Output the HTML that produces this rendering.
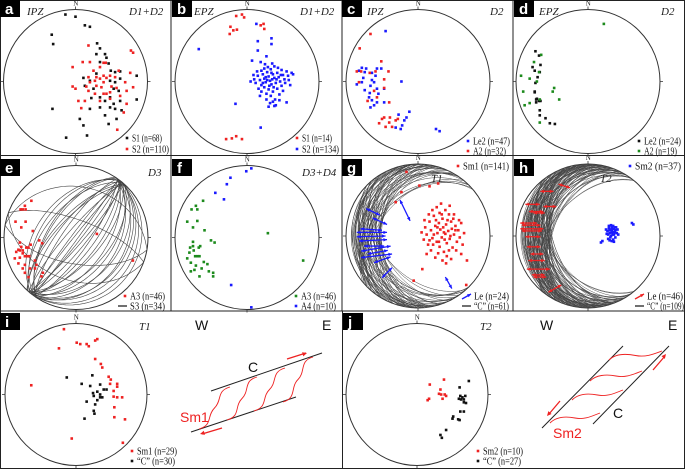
<!DOCTYPE html>
<html><head><meta charset="utf-8"><style>
html,body{margin:0;padding:0;background:#fff}
svg{display:block}
.lg{font-family:"Liberation Serif",serif;font-size:10px;fill:#111}
.it{font-family:"Liberation Serif",serif;font-size:11px;font-style:italic;fill:#222}
.nl{font-family:"Liberation Serif",serif;font-size:7px;fill:#222}
.pl{font-family:"Liberation Sans",sans-serif;font-size:15px;font-weight:bold;fill:#fff}
.sk{font-family:"Liberation Sans",sans-serif;font-size:14px}
</style></head><body>
<svg id="fig" width="685" height="469" viewBox="0 0 685 469" xmlns="http://www.w3.org/2000/svg"></svg>
<script>
// ---- data (normalized stereonet coordinates, unit radius, y up) ----
const aS1=[[-0.14,0.93],[0,0.9],[0.13,0.78],[0.2,0.76],[-0.33,0.65],[-0.31,0.52],[0.3,0.53],[0.34,0.46],[0.41,0.38],[0.43,0.33],[0.29,0.38],[0.34,0.27],[0.46,0.25],[0.49,0.15],[0.55,0.13],[0.62,0.14],[0.85,0.08],[0.11,0.05],[0.2,0.01],[0.29,0.11],[0.48,0.01],[0.55,-0.01],[0.62,0.04],[0.13,-0.06],[0.25,-0.1],[0.53,-0.1],[0.6,-0.13],[0.22,-0.23],[0.34,-0.22],[0.41,-0.27],[0.48,-0.22],[0.53,-0.31],[0.62,-0.27],[0.2,-0.38],[0.34,-0.36],[0.48,-0.36],[0.55,-0.38],[0.64,-0.4],[0.85,-0.25],[-0.32,-0.38],[0.06,-0.52],[0.11,-0.61],[0.41,-0.47],[0.46,-0.59],[0.57,-0.52],[-0.13,-0.78],[0.16,-0.75]];
const aS2=[[0.18,0.5],[0.77,0.43],[0.8,0.4],[0.1,0.27],[0.2,0.27],[-0.04,0.2],[0.39,0.26],[0.42,0.26],[0.25,0.15],[0.34,0.2],[0.6,0.15],[0.76,0.12],[0.2,-0.01],[0.27,0.01],[0.34,0.04],[0.39,-0.01],[0.43,0.05],[0.29,-0.06],[0.36,-0.08],[0.5,-0.07],[0.57,-0.09],[0.69,-0.01],[0.8,-0.08],[-0.04,-0.07],[0,-0.1],[0.18,-0.13],[0.27,-0.17],[0.39,-0.17],[0.48,-0.15],[0.62,-0.2],[0.71,-0.13],[0.04,-0.27],[0.13,-0.27],[0.34,-0.27],[0.43,-0.17],[0.08,-0.37],[0.58,-0.67],[0.71,-0.31],[0.18,0.06],[0.29,0.06],[0.39,0.08],[0.48,0.08],[0.55,0.06],[0.15,-0.07],[0.48,-0.24],[0.67,-0.43]];
const bS1=[[-0.15,0.91],[-0.07,0.93],[-0.04,0.89],[0.19,0.78],[0.23,0.8],[0.24,0.73],[-0.23,0.76],[-0.19,0.71],[-0.14,0.72],[-0.24,0.66],[-0.29,-0.8],[-0.21,-0.79],[-0.15,-0.76],[-0.07,-0.8]];
const bS2=[[-0.67,0.45],[0.13,0.8],[0.15,0.56],[0.34,0.6],[0.34,0.52],[0.15,0.43],[0.27,0.35],[0.07,0.29],[0.19,0.27],[-0.16,-0.31],[0.19,-0.64],[0.55,-0.29],[0.38,-0.34],[0.64,0.1],[0.05,0],[0.1,0.03],[0.12,-0.02],[0.15,0.08],[0.18,0.02],[0.2,-0.05],[0.22,0.1],[0.24,0.04],[0.26,-0.01],[0.28,0.13],[0.3,0.07],[0.32,0.01],[0.34,-0.04],[0.36,0.1],[0.38,0.05],[0.4,-0.02],[0.42,0.12],[0.44,0.06],[0.46,0],[0.48,-0.06],[0.5,0.09],[0.52,0.03],[0.55,0.14],[0.58,0.02],[0.6,-0.05],[0.16,-0.1],[0.2,-0.14],[0.24,-0.08],[0.27,-0.17],[0.3,-0.11],[0.33,-0.2],[0.36,-0.14],[0.39,-0.25],[0.42,-0.1],[0.45,-0.18],[0.5,-0.13],[0.27,-0.25],[0.32,-0.3],[0.36,-0.28],[0.24,0.18],[0.29,0.2],[0.33,0.17],[0.38,0.21],[0.43,0.19],[0.48,0.16],[0.2,0.15],[0.09,0.09],[0.14,0.14],[0.26,0.06],[0.31,-0.06],[0.35,0.03],[0.41,0.03],[0.37,-0.08],[0.28,0.02],[0.22,-0.02],[0.47,0.09],[0.53,-0.02],[0.18,-0.2],[0.4,-0.33],[0.3,-0.35],[0.25,0.24],[0.35,0.25],[0.57,0.08],[0.62,0.12],[0.45,-0.26],[0.34,0.12]];
const cLe2=[[-0.45,0.7],[-0.23,0],[-0.12,-0.42],[-0.16,-0.5],[-0.19,-0.54],[-0.22,-0.61],[-0.24,-0.66],[-0.31,-0.64],[-0.27,-0.46],[0.25,-0.66],[0.3,-0.69],[-0.78,0.19],[-0.82,0.15],[-0.72,0.18],[-0.74,0.13],[-0.64,0.12],[-0.57,0.18],[-0.51,0.18],[-0.59,0.08],[-0.64,0.02],[-0.76,0.05],[-0.85,-0.04],[-0.74,-0.12],[-0.66,-0.06],[-0.67,-0.16],[-0.68,-0.22],[-0.64,-0.26],[-0.57,-0.1],[-0.55,-0.17],[-0.57,-0.29],[-0.66,-0.36],[-0.61,-0.33],[-0.47,-0.1],[-0.47,-0.29],[-0.78,-0.01],[-0.61,-0.01]];
const cA2=[[-0.66,0.66],[-0.81,0.46],[-0.51,0.28],[-0.85,0.14],[-0.79,0.14],[-0.67,0.12],[-0.59,0.14],[-0.41,0.14],[-0.47,0.03],[-0.82,-0.01],[-0.47,-0.09],[-0.57,-0.22],[-0.4,-0.29],[-0.5,-0.52],[-0.47,-0.5],[-0.39,-0.5],[-0.31,-0.54],[-0.28,-0.52],[-0.4,-0.57],[-0.54,-0.58],[-0.45,-0.63],[-0.36,-0.63],[-0.7,-0.27],[-0.61,-0.13]];
const dLe2=[[-0.73,0.42],[-0.68,0.36],[-0.66,0.23],[-0.77,0.2],[-0.74,0.15],[-0.67,0.13],[-0.7,0.06],[-0.73,-0.02],[-0.74,-0.14],[-0.74,-0.15],[-0.71,-0.24],[-0.68,-0.27],[-0.66,-0.27],[-0.72,-0.29],[-0.67,-0.4],[-0.67,-0.47],[-0.59,-0.51],[-0.53,-0.58],[-0.46,-0.59],[-0.72,-0.25]];
const dA2=[[0.22,0.8],[-0.65,0.37],[-0.75,0.27],[-0.68,0.13],[-0.93,0.08],[-0.81,0.04],[-0.71,0],[-0.47,-0.09],[-0.9,-0.14],[-0.49,-0.14],[-0.4,-0.25],[-0.67,-0.25],[-0.81,-0.3],[-0.88,-0.33],[-0.67,-0.57]];
const eA3=[[-0.62,0.51],[-0.71,0.44],[-0.77,0.39],[-0.74,0.39],[-0.7,0.39],[-0.84,0.22],[-0.7,0.22],[-0.76,0.14],[-0.6,0.09],[-0.51,-0.04],[-0.47,-0.08],[-0.78,-0.07],[-0.76,-0.13],[-0.8,-0.17],[-0.66,-0.14],[-0.63,-0.1],[-0.69,-0.14],[-0.83,-0.2],[-0.74,-0.22],[-0.71,-0.26],[-0.68,-0.26],[-0.65,-0.26],[-0.78,-0.28],[-0.57,-0.32],[-0.85,-0.29],[-0.8,-0.36],[-0.71,-0.38],[-0.64,-0.43],[-0.74,-0.43],[-0.57,-0.43],[-0.55,-0.38],[-0.71,-0.49],[-0.66,-0.55],[-0.48,-0.54],[-0.46,-0.49],[0.29,0.05],[0.79,-0.32],[-0.78,-0.18],[-0.74,-0.18]];
const eS3DipDir=[308,306,310,304,312,308,305,311,307,309,303,313,128,126,130,124,132,128,125,131,127,129,128,126,130,124,132,128,125,131,10,200,190,20];
const eS3Dip=[45,50,55,60,65,70,75,80,85,88,58,68,12,18,25,32,40,48,55,62,70,78,85,88,30,42,52,65,75,82,30,40,60,70];
const fA3=[[-0.61,0.51],[-0.71,0.44],[-0.77,0.39],[-0.69,0.39],[-0.83,0.22],[-0.69,0.23],[-0.75,0.14],[-0.59,0.1],[-0.5,-0.04],[-0.45,-0.07],[0.29,0.06],[0.78,-0.32],[-0.75,-0.06],[-0.79,-0.14],[-0.75,-0.12],[-0.67,-0.14],[-0.65,-0.12],[-0.8,-0.21],[-0.74,-0.18],[-0.72,-0.26],[-0.69,-0.26],[-0.66,-0.26],[-0.83,-0.29],[-0.6,-0.34],[-0.55,-0.37],[-0.78,-0.35],[-0.71,-0.39],[-0.63,-0.43],[-0.73,-0.45],[-0.53,-0.47],[-0.47,-0.49],[-0.47,-0.54],[-0.66,-0.54],[-0.78,-0.47]];
const fA4=[[0.06,0.96],[-0.01,0.92],[-0.23,0.83],[-0.28,0.74],[-0.44,0.62],[-0.32,0.53],[-0.22,-0.66],[0.06,-0.97]];
const gSm1=[[-0.16,0.89],[0.02,0.7],[0.16,0.69],[0.28,0.73],[-0.23,0.61],[-0.31,0.47],[0.06,-0.46],[-0.06,-0.62],[0.67,-0.68],[0.68,-0.34],[0.05,0.05],[0.08,-0.05],[0.1,0.12],[0.12,0.02],[0.14,-0.12],[0.16,0.2],[0.18,0.08],[0.2,-0.03],[0.22,0.28],[0.24,0.14],[0.26,-0.08],[0.27,0.04],[0.29,0.18],[0.3,-0.15],[0.31,0.09],[0.33,-0.02],[0.34,0.24],[0.35,0.12],[0.36,-0.22],[0.38,0.03],[0.39,0.16],[0.4,-0.1],[0.42,0.07],[0.43,0.3],[0.44,-0.04],[0.46,0.2],[0.47,0.1],[0.48,-0.16],[0.5,0.02],[0.52,0.14],[0.54,-0.08],[0.56,0.08],[0.58,-0.02],[0.6,0.18],[0.62,-0.12],[0.64,0.04],[0.12,-0.25],[0.18,-0.2],[0.24,-0.3],[0.28,-0.24],[0.34,-0.34],[0.4,-0.28],[0.46,-0.32],[0.2,0.36],[0.26,0.4],[0.32,0.45],[0.38,0.36],[0.44,0.42],[0.5,0.3],[0.16,-0.06],[0.22,0.02],[0.25,0.22],[0.33,0.3],[0.37,-0.05],[0.41,0.22],[0.45,0],[0.49,0.24],[0.53,-0.2],[0.57,0.22],[0.29,-0.08],[0.21,-0.12],[0.36,0.05],[0.43,-0.2],[0.52,0.08],[0.15,0.3],[0.3,0.32],[0.09,0.22],[0.27,0.12],[0.39,-0.38],[0.6,-0.25]];
const gLeStart=[[-0.72,0.38],[-0.63,0.25],[-0.85,0.05],[-0.85,-0.01],[-0.82,-0.07],[-0.79,-0.21],[-0.79,-0.3],[-0.61,-0.37],[-0.5,-0.58],[-0.25,0.5],[0.38,-0.57],[-0.75,-0.14],[-0.8,0.1],[-0.7,-0.25]];
const gLeEnd=[[-0.53,0.29],[-0.43,0.16],[-0.43,0.05],[-0.45,0],[-0.43,-0.05],[-0.38,-0.14],[-0.36,-0.25],[-0.38,-0.29],[-0.36,-0.44],[-0.11,0.21],[0.47,-0.73],[-0.47,-0.14],[-0.5,0.08],[-0.42,-0.2]];
const gCDipDir=[270,268,272,265,275,262,278,258,282,255,285,250,290,245,295,240,300,235,305,230,310,225,315,320,228,318,260,280,270,265,275,250,290,245,295,255,285,262,278,240,300,235,305,268,272,258,282,230,310,225,315,270,266,274,252,288,244,296,238,302,270];
const gCDip=[12,18,24,30,36,42,46,15,21,27,33,39,45,10,20,30,40,46,25,35,45,28,32,38,46,42,46,22,8,47,46,16,26,20,36,14,44,34,40,24,30,18,28,46,10,38,46,35,22,30,42,30,26,20,44,14,46,12,40,34,48];
const hSm2=[[0.33,0.05],[0.3,0.08],[0.36,0.02],[0.28,0.02],[0.38,0.08],[0.33,0.12],[0.31,-0.02],[0.35,-0.05],[0.27,0.07],[0.4,0.04],[0.32,0],[0.36,0.1],[0.29,0.11],[0.34,0.06],[0.38,-0.02],[0.3,0.04],[0.26,0.03],[0.33,-0.07],[0.37,0.05],[0.31,0.09],[0.35,0.14],[0.41,0.09],[0.28,-0.04],[0.34,0.02],[0.32,0.15],[0.39,0.12],[0.25,0.09],[0.36,-0.08],[0.3,-0.06],[0.42,0.02],[0.33,0.09],[0.61,0.18],[0.63,0.16],[0.18,-0.09],[0.2,-0.07],[0.37,0.12],[0.29,0.14]];
const hLeStart=[[-0.41,0.72],[-0.66,0.62],[-0.87,0.44],[-0.62,0.41],[-0.82,0.34],[-0.76,0.32],[-0.94,0.18],[-0.92,0.15],[-0.94,0.1],[-0.92,0.07],[-0.87,-0.01],[-0.85,-0.15],[-0.8,-0.25],[-0.83,-0.34],[-0.85,-0.46],[-0.78,-0.54],[-0.76,-0.57],[-0.55,-0.78]];
const hLeEnd=[[-0.25,0.67],[-0.48,0.62],[-0.67,0.44],[-0.44,0.41],[-0.62,0.34],[-0.6,0.32],[-0.71,0.18],[-0.66,0.15],[-0.62,0.1],[-0.64,0.07],[-0.66,-0.01],[-0.66,-0.15],[-0.62,-0.25],[-0.6,-0.34],[-0.53,-0.46],[-0.6,-0.54],[-0.58,-0.57],[-0.37,-0.68]];
const hCDipDir=[270,266,274,262,278,258,282,254,286,250,290,246,294,242,298,238,302,234,306,230,310,268,272,264,276,260,280,256,284,252,288,248,292,244,296,240,300,236,304,232,308,270,267,273,263,277,259,281,255,285,251,289,247,293,243,297,239,301,235,305,231,309,269,271,265,275,261,279,257,283,253,287,249,291,245,295,241,299,237,303,233,307,270,268,272,266,274,264,276,262,278,260,280,258,282,256,284,254,286,252,288,250,290,248,292,246,294,244,296];
const hCDip=[10,14,18,22,26,30,34,38,42,46,50,12,16,20,24,28,32,36,40,44,48,44,46,48,9,13,17,21,25,29,33,37,41,45,49,45,47,11,15,19,23,27,31,35,39,43,47,43,45,48,50,8,12,16,20,24,28,32,36,40,44,48,44,18,22,26,30,34,38,42,15,19,23,27,31,35,39,43,47,25,29,33,37,41,45,20,24,28,32,36,40,44,14,18,22,26,30,34,38,42,46,50,45,48,30,35,40,45,50];
const iSm1=[[-0.17,0.92],[-0.24,0.65],[0.01,0.73],[0.06,0.71],[0.15,0.71],[0.18,0.68],[0.27,0.76],[0.3,0.78],[0.27,0.5],[0.35,0.43],[0.37,0.38],[0.46,0.25],[0.49,0.21],[0.48,0.15],[0.58,0.15],[0.58,0.11],[0.53,0.05],[0.53,-0.03],[0.58,-0.04],[0.65,-0.04],[0.54,-0.18],[0.54,-0.32],[0.69,-0.35],[-0.63,0.13],[-0.06,-0.62],[0.66,-0.68]];
const iC=[[-0.13,0.24],[0.08,0.15],[0.23,0.27],[0.2,0.12],[0.34,0.14],[0.39,0.07],[0.34,0],[0.37,-0.04],[0.3,0.04],[0.24,0.02],[0.25,-0.02],[0.3,-0.08],[0.15,-0.1],[0.27,-0.14],[0.25,-0.23],[0.26,-0.27],[0.12,-0.34],[0.43,0.07],[0.34,-0.04]];
const jSm2=[[0.18,0.14],[0.38,0.21],[0.33,0.07],[0.31,0.01],[0.34,0],[0.39,0],[0.41,-0.02],[0.36,-0.06],[0.17,-0.06],[0.15,-0.08]];
const jC=[[0.73,0.19],[0.6,0.1],[0.61,-0.02],[0.64,-0.04],[0.68,-0.02],[0.62,-0.07],[0.66,-0.11],[0.69,-0.12],[0.61,-0.24],[0.66,-0.24],[0.51,-0.31],[0.5,-0.34],[0.58,-0.35],[0.6,-0.36],[0.41,-0.5],[0.33,-0.57],[0.35,-0.61],[0.59,-0.06],[0.66,-0.07]];

const RED="#ee2222", BLK="#111", BLU="#1a1aff", GRN="#1c8a1c";
const NS="http://www.w3.org/2000/svg";
const svg=document.getElementById('fig');
function mk(tag,attrs,parent){const e=document.createElementNS(NS,tag);for(const k in attrs)e.setAttribute(k,attrs[k]);(parent||svg).appendChild(e);return e;}
function txt(x,y,s,cls,parent,fill){const t=mk('text',{x:x,y:y,class:cls},parent);t.style.fill=fill||(cls==='sk'?'#111':'');t.textContent=s;return t;}

function px(net,u){return net.cx+u*net.r;}
function py(net,v){return net.cy-v*net.r;}

function drawNet(net,name){
  const g=mk('g',{});
  
  
  const c=mk('circle',{cx:net.cx,cy:net.cy,r:net.r,fill:'none',stroke:'#333','stroke-width':1},g);
  
  
  const tk=mk('path',{d:`M${net.cx},${net.cy-net.r-3}v3M${net.cx},${net.cy+net.r}v3M${net.cx-net.r-3},${net.cy}h3M${net.cx+net.r},${net.cy}h3`,stroke:'#333','stroke-width':0.8},g);
  
  
  const n=txt(net.cx-2.2,net.cy-net.r-4,'N','nl',g);
  
  
  return g;
}
function drawPoints(net,pts,color,name){
  const g=mk('g',{fill:color});
  
  
  pts.forEach(p=>{
    const r=mk('rect',{x:px(net,p[0])-1.3,y:py(net,p[1])-1.3,width:2.6,height:2.6},g);
    
    
  });
}
function gcPath(net,dd,dip){
  const D=Math.PI/180, a=dd*D, d=dip*D;
  const s=[Math.sin(a-Math.PI/2),Math.cos(a-Math.PI/2),0];
  const dv=[Math.sin(a)*Math.cos(d),Math.cos(a)*Math.cos(d),Math.sin(d)];
  let p='';
  for(let t=0;t<=180;t+=3){
    const tt=t*D;
    const v=[Math.cos(tt)*s[0]+Math.sin(tt)*dv[0],Math.cos(tt)*s[1]+Math.sin(tt)*dv[1],Math.cos(tt)*s[2]+Math.sin(tt)*dv[2]];
    const pl=Math.asin(Math.max(-1,Math.min(1,v[2])));
    const tr=Math.atan2(v[0],v[1]);
    const R=Math.SQRT2*Math.sin((Math.PI/2-pl)/2);
    p+=(t?'L':'M')+px(net,R*Math.sin(tr)).toFixed(1)+','+py(net,R*Math.cos(tr)).toFixed(1);
  }
  return p;
}
function drawCircles(net,dds,dips,name,sw){
  const g=mk('g',{fill:'none',stroke:'#444','stroke-width':sw});
  
  
  const n=Math.min(dds.length,dips.length);
  for(let i=0;i<n;i++){
    const p=mk('path',{d:gcPath(net,dds[i],dips[i])},g);
    
    
  }
}
function arrowHead(g,x1,y1,x2,y2,color,sz){
  const ang=Math.atan2(y2-y1,x2-x1);
  const a1=ang+2.7,a2=ang-2.7;
  mk('path',{d:`M${x2},${y2}L${x2+sz*Math.cos(a1)},${y2+sz*Math.sin(a1)}L${x2+sz*Math.cos(a2)},${y2+sz*Math.sin(a2)}Z`,fill:color,stroke:'none'},g);
}
function drawArrows(net,starts,ends,color,name){
  const g=mk('g',{stroke:color,'stroke-width':1.3});
  
  
  const n=Math.min(starts.length,ends.length);
  for(let i=0;i<n;i++){
    const x1=px(net,starts[i][0]),y1=py(net,starts[i][1]),x2=px(net,ends[i][0]),y2=py(net,ends[i][1]);
    const a=mk('g',{},g);
    
    
    mk('line',{x1:x1,y1:y1,x2:x2,y2:y2},a);
    arrowHead(a,x2,y2,x1,y1,color,4);
    arrowHead(a,x1,y1,x2,y2,color,4);
  }
}
function panelLabel(x,y,l){
  const g=mk('g',{});
  
  
  mk('rect',{x:x,y:y,width:20,height:17,fill:'#000'},g);
  txt(x+5,y+14,l,'pl',g);
}
function legend(x,y,kind,color,label,w,name){
  const g=mk('g',{});
  
  
  if(kind==='pt')mk('rect',{x:x-1.3,y:y-1.3,width:2.6,height:2.6,fill:color},g);
  else if(kind==='line')mk('line',{x1:x-7,y1:y,x2:x+2,y2:y,stroke:'#111','stroke-width':1.2},g);
  else {mk('line',{x1:x-7,y1:y+3,x2:x+2,y2:y-2,stroke:color,'stroke-width':1.3},g);arrowHead(g,x-7,y+3,x+2,y-2,color,4);}
  const t=txt(x+5,y+3.5,label,'lg',g);
  t.setAttribute('textLength',w);
  t.setAttribute('lengthAdjust','spacingAndGlyphs');
}

const fr=mk('path',{d:'M0.5,0.5H684.5V468.5H0.5Z M171,0V311 M342,0V311 M513,0V311 M0,155.5H685 M0,311H685 M342.5,311V469',fill:'none',stroke:'#222','stroke-width':1});



const nets={
 a:{cx:75.5,cy:81.5,r:72}, b:{cx:247,cy:81.5,r:72}, c:{cx:418,cy:81.5,r:72}, d:{cx:588,cy:81.5,r:72},
 e:{cx:76,cy:237.5,r:72}, f:{cx:247,cy:237.5,r:72}, g:{cx:418,cy:236,r:72}, h:{cx:588,cy:236,r:72},
 i:{cx:76,cy:394.5,r:71}, j:{cx:417,cy:394.5,r:71}
};
for(const k in nets)drawNet(nets[k],'stereonet-'+k);

drawCircles(nets.e,eS3DipDir,eS3Dip,'s3-great-circles',0.6);
drawCircles(nets.g,gCDipDir,gCDip,'c-great-circles-t1',0.5);
drawCircles(nets.h,hCDipDir,hCDip,'c-great-circles-t2',0.45);

drawPoints(nets.a,aS1,BLK,'s1-points-a');
drawPoints(nets.a,aS2,RED,'s2-points-a');
drawPoints(nets.b,bS1,RED,'s1-points-b');
drawPoints(nets.b,bS2,BLU,'s2-points-b');
drawPoints(nets.c,cLe2,BLU,'le2-points-c');
drawPoints(nets.c,cA2,RED,'a2-points-c');
drawPoints(nets.d,dLe2,BLK,'le2-points-d');
drawPoints(nets.d,dA2,GRN,'a2-points-d');
drawPoints(nets.e,eA3,RED,'a3-points-e');
drawPoints(nets.f,fA3,GRN,'a3-points-f');
drawPoints(nets.f,fA4,BLU,'a4-points-f');
drawPoints(nets.g,gSm1,RED,'sm1-points-g');
drawArrows(nets.g,gLeStart,gLeEnd,BLU,'le-arrows-g');
drawPoints(nets.h,hSm2,BLU,'sm2-points-h');
drawArrows(nets.h,hLeStart,hLeEnd,RED,'le-arrows-h');
drawPoints(nets.i,iSm1,RED,'sm1-points-i');
drawPoints(nets.i,iC,BLK,'c-points-i');
drawPoints(nets.j,jSm2,RED,'sm2-points-j');
drawPoints(nets.j,jC,BLK,'c-points-j');

['a','b','c','d'].forEach((l,i)=>panelLabel([0,172,342,514][i],0,l));
['e','f','g','h'].forEach((l,i)=>panelLabel([0,172,342,514][i],159,l));
panelLabel(0,313,'i');panelLabel(343,313,'j');

[[27,15,'IPZ','zone-a'],[129,15,'D1+D2','phase-a'],[194,15,'EPZ','zone-b'],[300,15,'D1+D2','phase-b'],[367,15,'IPZ','zone-c'],[490,15,'D2','phase-c'],[539,15,'EPZ','zone-d'],[661,15,'D2','phase-d'],[148,176,'D3','phase-e'],[302,176,'D3+D4','phase-f'],[431,182,'T1','phase-g'],[600,182,'T2','phase-h'],[139,330,'T1','phase-i'],[480,330,'T2','phase-j']].forEach(t=>{
  const e=txt(t[0],t[1],t[2],'it');
  
  
});

legend(127,138,'pt',BLK,'S1  (n=68)',30,'legend-s1-a');
legend(127,149,'pt',RED,'S2  (n=110)',37,'legend-s2-a');
legend(297,138,'pt',RED,'S1  (n=14)',30,'legend-s1-b');
legend(297,149,'pt',BLU,'S2  (n=134)',37,'legend-s2-b');
legend(468,141,'pt',BLU,'Le2  (n=47)',37,'legend-le2-c');
legend(468,151,'pt',RED,'A2  (n=32)',33,'legend-a2-c');
legend(639,141,'pt',BLK,'Le2  (n=24)',37,'legend-le2-d');
legend(639,151,'pt',GRN,'A2  (n=19)',33,'legend-a2-d');
legend(125,296,'pt',RED,'A3  (n=46)',35,'legend-a3-e');
legend(125,306,'line',BLK,'S3  (n=34)',35,'legend-s3-e');
legend(296,296,'pt',GRN,'A3  (n=46)',35,'legend-a3-f');
legend(296,306,'pt',BLU,'A4  (n=10)',35,'legend-a4-f');
legend(458,166,'pt',RED,'Sm1  (n=141)',46,'legend-sm1-g');
legend(469,296,'arrow',BLU,'Le  (n=24)',35,'legend-le-g');
legend(469,306,'line',BLK,'“C” (n=61)',35,'legend-c-g');
legend(630,166,'pt',BLU,'Sm2  (n=37)',46,'legend-sm2-h');
legend(642,296,'arrow',RED,'Le  (n=46)',36,'legend-le-h');
legend(642,306,'line',BLK,'“C” (n=109)',37,'legend-c-h');
legend(132,451,'pt',RED,'Sm1  (n=29)',40,'legend-sm1-i');
legend(132,461,'pt',BLK,'“C” (n=30)',38,'legend-c-i');
legend(478,451,'pt',RED,'Sm2  (n=10)',40,'legend-sm2-j');
legend(478,461,'pt',BLK,'“C” (n=27)',38,'legend-c-j');

(function(){
  const g=mk('g',{});
  
  
  txt(195,330,'W','sk',g);txt(322,330,'E','sk',g);
  mk('path',{d:'M211,391L322,353M191,432L296,397',stroke:'#222','stroke-width':1,fill:'none'},g);
  txt(248,372,'C','sk',g);
  txt(180,422,'Sm1','sk',g,RED);
  const sp=[[199,429,230,387],[227,420,257,377],[254,411,285,368],[283,402,313,357]];
  sp.forEach(s=>{
    const mx=(s[0]+s[2])/2,my=(s[1]+s[3])/2;
    mk('path',{d:`M${s[0]},${s[1]}C${s[0]+14},${s[1]-4} ${mx-8},${my+8} ${mx},${my}S${s[2]-14},${s[3]+4} ${s[2]},${s[3]}`,stroke:RED,'stroke-width':0.9,fill:'none'},g);
  });
  mk('line',{x1:287,y1:359,x2:306,y2:353,stroke:RED,'stroke-width':1.3},g);arrowHead(g,287,359,307,353,RED,5);
  mk('line',{x1:222,y1:428,x2:202,y2:434,stroke:RED,'stroke-width':1.3},g);arrowHead(g,222,428,200,434,RED,5);
})();
(function(){
  const g=mk('g',{});
  
  
  txt(540,330,'W','sk',g);txt(668,330,'E','sk',g);
  mk('path',{d:'M542,428L623,346M593,424L669,346',stroke:'#222','stroke-width':1,fill:'none'},g);
  txt(613,418,'C','sk',g);
  txt(553,438,'Sm2','sk',g,RED);
  const sp=[[550,423,600,413],[572,400,623,390],[590,381,642,371],[609,360,662,351]];
  sp.forEach(s=>{
    const mx=(s[0]+s[2])/2,my=(s[1]+s[3])/2;
    mk('path',{d:`M${s[0]},${s[1]}C${s[0]+6},${s[1]-6} ${mx-10},${my-2} ${mx},${my}S${s[2]-8},${s[3]+3} ${s[2]},${s[3]}`,stroke:RED,'stroke-width':0.9,fill:'none'},g);
  });
  mk('line',{x1:560,y1:401,x2:549,y2:414,stroke:RED,'stroke-width':1.3},g);arrowHead(g,560,401,547,416,RED,5);
  mk('line',{x1:653,y1:370,x2:665,y2:356,stroke:RED,'stroke-width':1.3},g);arrowHead(g,653,370,666,354,RED,5);
})();
</script>
</body></html>
